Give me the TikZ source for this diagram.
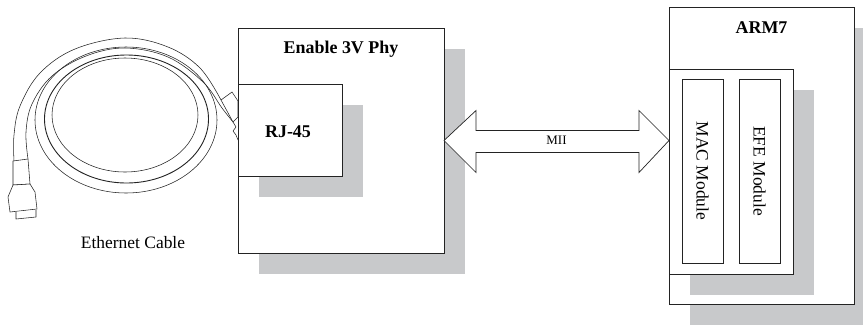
\documentclass[tikz,border=0pt]{standalone}
\usepackage{fontspec}
\setmainfont{Liberation Serif}
\usetikzlibrary{calc}
\definecolor{shade}{RGB}{200,201,203}
\definecolor{ink}{RGB}{35,35,35}
\begin{document}
\begin{tikzpicture}[x=1bp,y=-1bp,
  box/.style={draw=ink, line width=0.8bp, fill=white, anchor=north west,
              inner sep=0pt, outer sep=0pt},
  shadowed/.style={preaction={fill=shade, draw=none,
              transform canvas={shift={(21bp,-21bp)}}}},
  title/.style={font=\fontsize{18}{20}\selectfont\bfseries, anchor=base, inner sep=0pt},
  modtext/.style={font=\fontsize{17.5}{20}\selectfont, rotate=-90, inner sep=0pt},
  plain/.style={font=\fontsize{17.5}{20}\selectfont, anchor=base, inner sep=0pt},
  cable/.style={draw=ink, line width=0.55bp, line join=round},
  bus/.style={draw=ink, line width=0.7bp, fill=white, line join=miter}]

\useasboundingbox (0,0) rectangle (863,325);

% ---- coiled Ethernet cable ----
% lead running from the loose plug round the top of the coil to the RJ-45 plug
\draw[cable] plot[smooth, tension=0.6] coordinates
  {(14,161) (14,135) (20,106) (40,73) (75,49) (125,38) (168,47) (200,68) (221,100)};
\draw[cable] plot[smooth, tension=0.6] coordinates
  {(28,159) (26,132) (32,104) (52,76) (86,56) (125,48) (168,57) (203,82) (222,108) (233,122)};
% the coil itself
\draw[cable] (126,120) ellipse [x radius=91, y radius=73];
\draw[cable, line width=0.9bp] (126.5,119) ellipse [x radius=82, y radius=64];
\draw[cable] (125,115) ellipse [x radius=73, y radius=57];
% loose plug at the free end
\draw[cable, fill=white] (13,161) -- (28,159) -- (30,184) -- (13,185) -- cycle;
\draw[cable, fill=white] (13,185) -- (8,197) -- (10,212) -- (37,209) -- (35,192) -- (30,184) -- cycle;
\draw[cable, fill=white] (16,212) -- (16,219) -- (36,217) -- (36,210);
% plug going into the RJ-45 jack
\draw[cable, fill=white] (221,100) -- (232,92) -- (238,101) -- (238,117) -- (233,122) -- cycle;
\draw[cable] (233,122) -- (236,127) -- (233,131) -- (236,135) -- (238,140);

% ---- Enable 3V Phy board with its RJ-45 jack ----
\node[box, shadowed, minimum width=206bp, minimum height=225bp] (phy) at (238,28) {};
\node[title] (phytitle) at ($(phy.north)+(0,25)$) {Enable 3V Phy};
\node[box, shadowed, minimum width=104bp, minimum height=92bp] (rj) at (238,84) {};
\node[title] (rjtitle) at ($(rj.center)+(-2,7)$) {RJ-45};

% ---- ARM7 with its MAC and EFE modules ----
\node[box, shadowed, minimum width=185bp, minimum height=297bp] (arm) at (669,7) {};
\node[title] (armtitle) at ($(arm.north)+(0,26)$) {ARM7};
\node[box, shadowed, minimum width=124bp, minimum height=205bp] (core) at (669,69) {};
\node[box, minimum width=41bp, minimum height=184bp] (mac) at (682,79) {};
\node[box, minimum width=41bp, minimum height=184bp] (efe) at (739,79) {};
\node[modtext] (mactext) at (mac.center) {MAC Module};
\node[modtext] (efetext) at (efe.center) {EFE Module};

% ---- MII bus: a hollow double-headed arrow between the two boards ----
\coordinate (mL) at (phy.east);
\coordinate (mR) at (arm.west |- phy.east);
\draw[bus] (mL) -- ++(32,-30) -- ++(0,20) -- ($(mR)+(-30,-10)$) -- ++(0,-20)
  -- (mR) -- ++(-30,32) -- ++(0,-20) -- ($(mL)+(32,12)$) -- ++(0,20) -- cycle;
\node[font=\fontsize{13}{15}\selectfont, inner sep=0pt] (mii) at ($(mL)!0.5!(mR)$) {MII};

\node[plain] (cablelabel) at (133,248) {Ethernet Cable};
\end{tikzpicture}
\end{document}
